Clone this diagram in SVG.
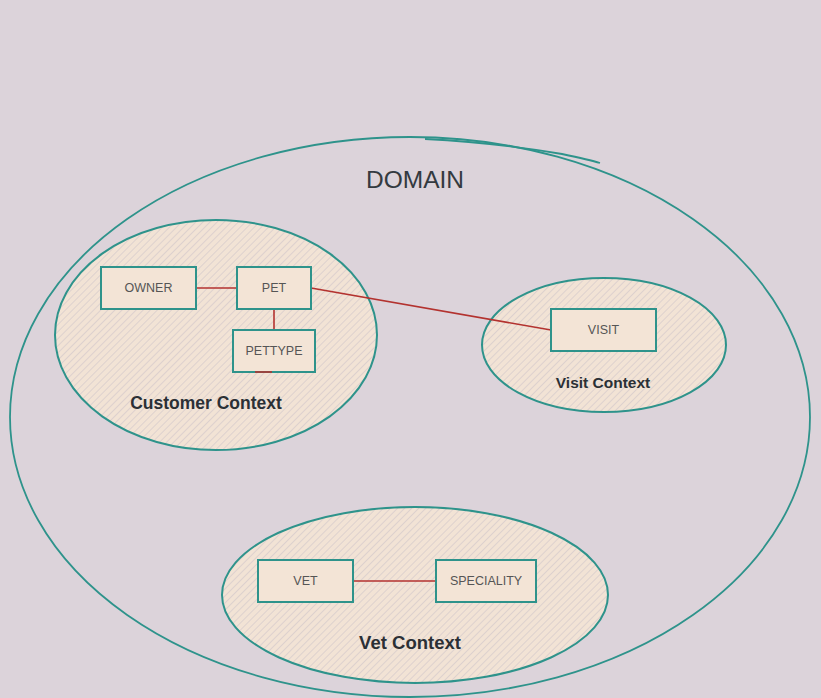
<svg xmlns="http://www.w3.org/2000/svg" width="821" height="698" viewBox="0 0 821 698">
<defs>
<pattern id="hatch" patternUnits="userSpaceOnUse" width="5" height="5" patternTransform="rotate(45)">
<rect width="5" height="5" fill="#f2e3d5"/>
<line x1="0" y1="0" x2="0" y2="5" stroke="#dbcfcd" stroke-width="1.8"/>
</pattern>
<style>
.ctx{fill:url(#hatch);stroke:#2e938b;stroke-width:2}
.dom{fill:none;stroke:#2e938b;stroke-width:1.8}
.box{fill:#f3e4d6;stroke:#2e938b;stroke-width:2}
.lbl{font-family:"Liberation Sans",Arial,sans-serif;font-size:12.5px;fill:#555;text-anchor:middle;dominant-baseline:central}
.ctxl{font-family:"Liberation Sans",Arial,sans-serif;font-weight:bold;fill:#2b3035;text-anchor:middle}
.conn{stroke:#b3322f;stroke-width:1.6;fill:none}
</style>
</defs>
<rect width="821" height="698" fill="#dcd3da"/>
<g id="domain">
<ellipse class="dom" cx="410" cy="417" rx="400" ry="280"/>
<path class="dom" d="M425,139 Q500,143 562,154 Q590,160 600,163" stroke-width="1"/>
<text x="415" y="188" font-family="Liberation Sans,Arial,sans-serif" font-size="24.5" fill="#343a40" text-anchor="middle">DOMAIN</text>
</g>
<g id="customer-context">
<ellipse class="ctx" cx="216" cy="335" rx="161" ry="115"/>
<text class="ctxl" x="206" y="409" font-size="17.5">Customer Context</text>
</g>
<g id="visit-context">
<ellipse class="ctx" cx="604" cy="345" rx="122" ry="67"/>
<text class="ctxl" x="603" y="388" font-size="15.5">Visit Context</text>
</g>
<g id="vet-context">
<ellipse class="ctx" cx="415" cy="595" rx="193" ry="88"/>
<text class="ctxl" x="410" y="649" font-size="18.5">Vet Context</text>
</g>
<g id="connectors">
<line class="conn" x1="196" y1="288" x2="237" y2="288"/>
<line class="conn" x1="274" y1="309" x2="274" y2="330"/>
<line class="conn" x1="311" y1="288" x2="551" y2="330"/>
<line class="conn" x1="353" y1="581" x2="436" y2="581"/>
</g>
<g id="owner">
<rect class="box" x="101" y="267" width="95" height="42"/>
<text class="lbl" x="148.5" y="288">OWNER</text>
</g>
<g id="pet">
<rect class="box" x="237" y="267" width="74" height="42"/>
<text class="lbl" x="274" y="288">PET</text>
</g>
<g id="pettype">
<rect class="box" x="233" y="330" width="82" height="42"/>
<line class="conn" x1="255" y1="372" x2="272" y2="372" stroke-width="2"/>
<text class="lbl" x="274" y="351">PETTYPE</text>
</g>
<g id="visit">
<rect class="box" x="551" y="309" width="105" height="42"/>
<text class="lbl" x="603.5" y="330">VISIT</text>
</g>
<g id="vet">
<rect class="box" x="258" y="560" width="95" height="42"/>
<text class="lbl" x="305.5" y="581">VET</text>
</g>
<g id="speciality">
<rect class="box" x="436" y="560" width="100" height="42"/>
<text class="lbl" x="486" y="581">SPECIALITY</text>
</g>
</svg>
